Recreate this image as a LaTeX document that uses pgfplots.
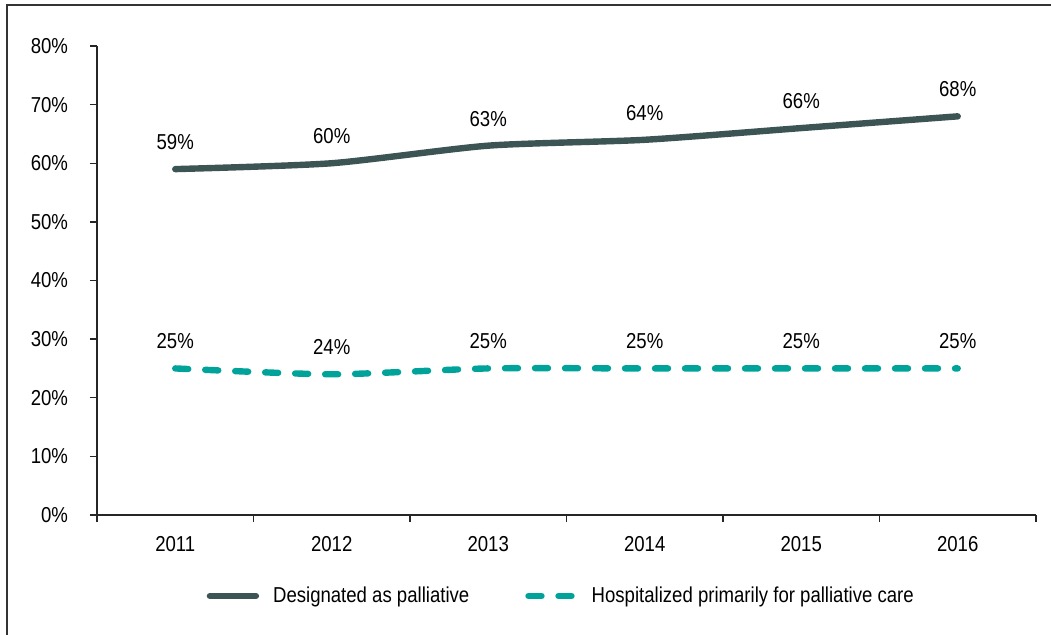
\documentclass[border=0pt]{standalone}
\usepackage{fontspec}
\setmainfont{Liberation Sans}[FakeStretch=0.86]
\usepackage{pgfplots}
\pgfplotsset{compat=1.18}
\definecolor{darkline}{RGB}{60,84,84}
\definecolor{tealline}{RGB}{0,163,154}
\begin{document}
\begin{tikzpicture}[font=\fontsize{10.8}{12.5}\selectfont]
\useasboundingbox (0,0) rectangle (525.5pt,317.5pt);
\draw[line width=0.8pt, color=black!80] (3.5pt,0pt) -- (3.5pt,315pt) -- (525.5pt,315pt);
\begin{axis}[
  at={(48.5pt,60pt)}, anchor=south west,
  scale only axis, width=469.5pt, height=234.5pt,
  xmin=0.5, xmax=6.5, ymin=0, ymax=80,
  axis lines*=left,
  axis line style={line width=0.7pt, black!85},
  tick style={line width=0.7pt, black!85},
  tick align=outside,
  major tick length=3.5pt,
  xtick={0.5,1.5,...,6.5},
  xticklabels={},
  extra x ticks={1,2,3,4,5,6},
  extra x tick labels={2011,2012,2013,2014,2015,2016},
  extra x tick style={major tick length=0pt, xticklabel style={yshift=-7pt}},
  ytick={0,10,...,80},
  yticklabel={\pgfmathprintnumber{\tick}\%},
  yticklabel style={xshift=-7.5pt},
  /pgf/number format/assume math mode=true,
  clip=false,
  legend style={at={(0.4955,-0.1727)}, anchor=center, draw=none, fill=none,
    legend columns=2,
    /tikz/every even column/.append style={column sep=26pt},
    font=\fontsize{10.8}{12.5}\selectfont},
  legend image code/.code={\draw[#1, line width=3.2pt] (2pt,0pt) -- (25pt,0pt); \path (30pt,0pt);},
  nodes near coords={\pgfmathprintnumber{\pgfplotspointmeta}\%},
  every node near coord/.append style={anchor=center, yshift=13.5pt, inner sep=0pt, text=black},
]
\addplot[darkline, line width=3.2pt, line cap=round, smooth, tension=0.4] coordinates {
  (1,59) (2,60) (3,63) (4,64) (5,66) (6,68)
};
\addlegendentry{Designated as palliative}
\addplot[tealline, line width=3.2pt, line cap=round, dash pattern=on 6.5pt off 8.5pt, smooth, tension=0.4] coordinates {
  (1,25) (2,24) (3,25) (4,25) (5,25) (6,25)
};
\addlegendentry{Hospitalized primarily for palliative care}
\end{axis}
\end{tikzpicture}
\end{document}
